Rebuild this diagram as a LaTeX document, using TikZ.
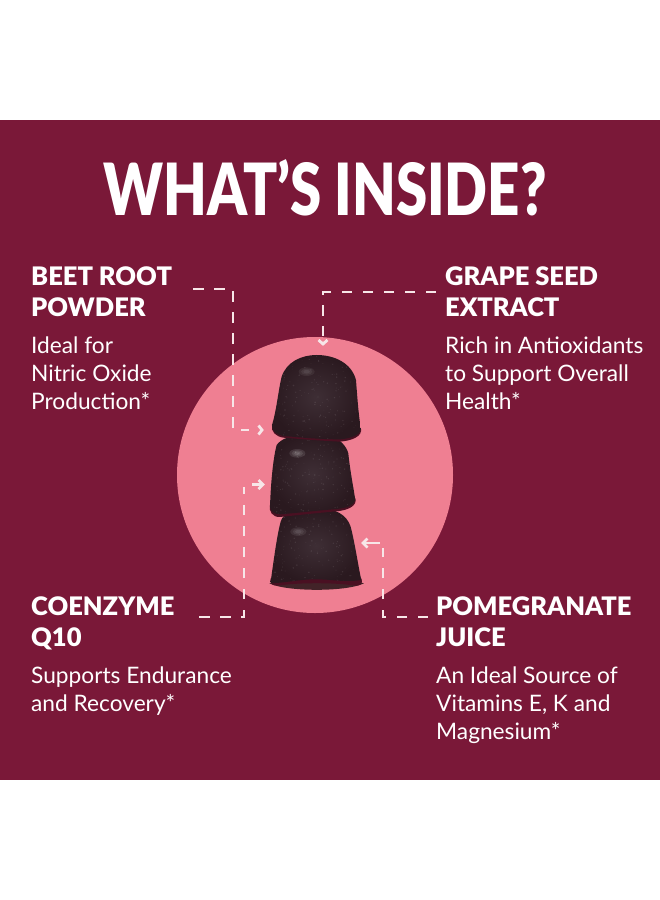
\documentclass[tikz,border=0pt]{standalone}
\usepackage{fontspec}
\setmainfont{Lato}
\newfontfamily\lblack{Lato Black}
\definecolor{band}{HTML}{7A1838}
\definecolor{disc}{HTML}{EF7F92}
\definecolor{gum}{HTML}{2A191F}
\definecolor{gumlight}{HTML}{3E2E35}
\definecolor{gumred}{HTML}{4A1022}
\definecolor{linecol}{HTML}{F7E6E8}
\tikzset{
  head/.style={anchor=north west,inner sep=0pt,align=left,text=white,font=\fontsize{25.5}{31}\selectfont\lblack},
  body/.style={anchor=north west,inner sep=0pt,align=left,text=white,font=\fontsize{22.7}{28}\selectfont},
  lead/.style={draw=linecol,line width=2.6pt,dash pattern=on 10.5pt off 10.5pt},
  chev/.style={draw=linecol,line width=2.8pt,line join=miter},
  gummy/.style={inner color=gumlight,outer color=gum,draw=none},
}
\newcommand{\gumtop}{(306,465) .. controls (320,420) and (325,360) .. (335,320) .. controls (350,275) and (395,255) .. (440,255) .. controls (495,255) and (545,280) .. (558,330) .. controls (562,380) and (565,430) .. (573,478) .. controls (570,495) and (545,505) .. (510,508) .. controls (450,508) and (400,503) .. (340,498) .. controls (320,495) and (304,482) .. (306,465) -- cycle}
\newcommand{\gummid}{(300,710) .. controls (302,650) and (308,570) .. (320,525) .. controls (345,490) and (420,490) .. (480,500) .. controls (510,505) and (530,530) .. (535,550) .. controls (540,600) and (550,650) .. (556,690) .. controls (550,708) and (530,714) .. (500,717) .. controls (430,723) and (370,730) .. (330,733) .. controls (310,733) and (300,722) .. (300,710) -- cycle}
\newcommand{\gumbot}{(302,935) .. controls (310,880) and (320,800) .. (332,755) .. controls (340,725) and (380,715) .. (440,715) .. controls (500,715) and (530,735) .. (542,770) .. controls (555,820) and (565,890) .. (574,930) .. controls (520,938) and (490,928) .. (435,928) .. controls (390,928) and (350,938) .. (304,940) -- cycle}
\newcommand{\specks}[4]{%
  \foreach \k in {1,...,#4}{%
    \pgfmathsetmacro{\px}{#1+rnd*(#3)}%
    \pgfmathsetmacro{\py}{#2+rnd*(#3)}%
    \pgfmathsetmacro{\pr}{0.8+rnd*1.8}%
    \fill[white,opacity=.09] (\px,\py) circle (\pr);
  }}
\newcommand{\glint}[3]{%
  \foreach \q in {1,0.7,0.4}{\fill[white,opacity=#3] (#1,#2) ellipse ({24*\q} and {13*\q});}}
\begin{document}
\begin{tikzpicture}[x=1pt,y=-1pt]
\pgfmathsetseed{7}
\useasboundingbox (0,0) rectangle (660,900);
\fill[white] (0,0) rectangle (660,900);
\fill[band] (0,120) rectangle (660,780);
\node[anchor=center,inner sep=0pt,text=white] (title) at (325,187.5)
  {\scalebox{0.783}[1]{\fontsize{72}{72}\selectfont\lblack WHAT’S INSIDE?}};
\fill[disc] (315,475) circle (138);
% gummies, drawn in a 3x grid
\begin{scope}[shift={(170,270)},x=0.3333pt,y=-0.3333pt]
  \fill[black!85!disc,opacity=.85] (298,940) .. controls (350,966) and (530,966) .. (582,940) .. controls (500,920) and (380,920) .. (298,940) -- cycle;
  % bottom
  \fill[gumred] (302,925) -- (574,925) .. controls (580,945) and (570,950) .. (540,945) .. controls (490,938) and (390,938) .. (340,945) .. controls (310,950) and (298,945) .. (302,925) -- cycle;
  \shade[gummy] \gumbot;
  \begin{scope}\clip \gumbot; \specks{300}{715}{280}{200} \glint{385}{785}{.07} \end{scope}
  % middle
  \fill[gumred] (300,705) -- (556,685) .. controls (562,705) and (540,720) .. (500,724) .. controls (430,730) and (370,737) .. (330,741) .. controls (308,742) and (296,725) .. (300,705) -- cycle;
  \shade[gummy] \gummid;
  \begin{scope}\clip \gummid; \specks{295}{495}{270}{200} \glint{382}{550}{.1} \end{scope}
  % top
  \fill[gumred] (306,465) -- (573,475) .. controls (578,500) and (545,512) .. (510,515) .. controls (450,512) and (400,508) .. (340,503) .. controls (318,500) and (302,485) .. (306,465) -- cycle;
  \shade[gummy] \gumtop;
  \begin{scope}\clip \gumtop; \specks{300}{250}{275}{200} \glint{410}{305}{.06} \end{scope}
\end{scope}
% texts
\node[head] (beethead) at (31,267) {BEET ROOT\\POWDER};
\node[body] (beetbody) at (31,337) {Ideal for\\Nitric Oxide\\Production*};
\node[head] (grapehead) at (445,267) {GRAPE SEED\\EXTRACT};
\node[body] (grapebody) at (445,337) {Rich in Antioxidants\\to Support Overall\\Health*};
\node[head] (coqhead) at (31,597) {COENZYME\\Q10};
\node[body] (coqbody) at (31,667) {Supports Endurance\\and Recovery*};
\node[head] (pomhead) at (436,597) {POMEGRANATE\\JUICE};
\node[body] (pombody) at (436,667) {An Ideal Source of\\Vitamins E, K and\\Magnesium*};
% connector corners and ends
\coordinate (b0) at (193,289); \coordinate (b1) at (233,289); \coordinate (b2) at (233,430); \coordinate (b3) at (249,430);
\coordinate (g0) at (436,292); \coordinate (g1) at (323,292); \coordinate (g2) at (323,336);
\coordinate (c0) at (199,617); \coordinate (c1) at (244,617); \coordinate (c2) at (244,487);
\coordinate (p0) at (428,617); \coordinate (p1) at (383,617); \coordinate (p2) at (383,548);
\draw[lead] (b0) -- (b1) -- (b2) -- (b3);
\draw[lead] (g0) -- (g1) -- (g2);
\draw[lead] (c0) -- (c1) -- (c2);
\draw[lead] (p0) -- (p1) -- (p2);
% arrow heads
\draw[chev] (258.5,425.5) -- (262,430) -- (258.5,434.5);
\draw[chev] (318.5,340) -- (323,344) -- (327.5,340);
\draw[chev] (258.5,480) -- (263,484.5) -- (258.5,489);
\draw[chev] (252,484.5) -- (263,484.5);
\draw[chev] (367.5,538.5) -- (363,543) -- (367.5,547.5);
\draw[chev] (363,543) -- (380,543);
\end{tikzpicture}
\end{document}
